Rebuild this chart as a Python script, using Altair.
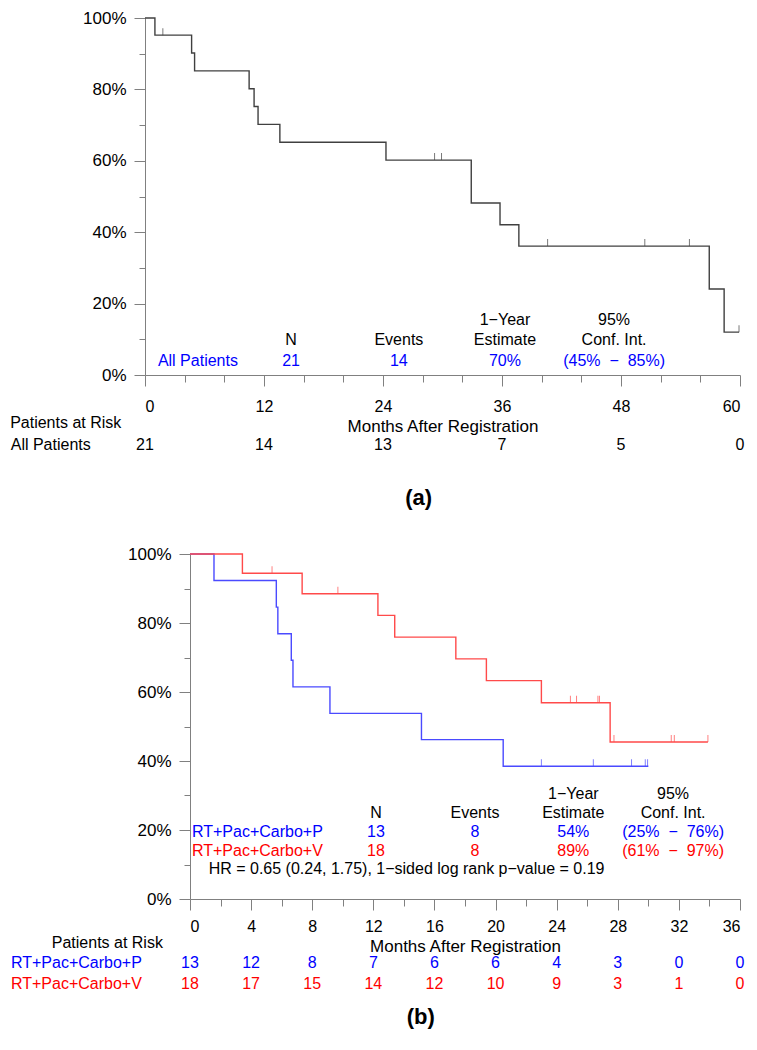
import altair as alt
import pandas as pd

FONT = "Liberation Sans"
NB = "\u00a0"

# ---------------- Panel (a) data ----------------
a_times = [0, 1.0, 4.7, 5.0, 10.5, 11.0, 11.4, 13.6, 24.3, 32.9, 35.8, 37.7, 56.9, 58.4, 59.9]
a_surv = [1.0, 0.952, 0.902, 0.852, 0.802, 0.752, 0.702, 0.652, 0.602, 0.482, 0.421, 0.361, 0.241, 0.120, 0.120]
a_cens_t = [1.8, 29.2, 29.9, 40.6, 50.4, 54.9, 59.9]
a_cens_s = [0.952, 0.602, 0.602, 0.361, 0.361, 0.361, 0.120]
a_risk_months = [0, 12, 24, 36, 48, 60]
a_risk = [21, 14, 13, 7, 5, 0]
a_group = "All Patients"
a_stats = ["21", "14", "70%", "(45%" + NB * 2 + "\u2212" + NB * 2 + "85%)"]

# ---------------- Panel (b) data ----------------
b_groups = ["RT+Pac+Carbo+P", "RT+Pac+Carbo+V"]
p_times = [0, 1.57, 5.65, 5.75, 6.63, 6.74, 9.16, 15.15, 20.5, 30.0]
p_surv = [1.0, 0.923, 0.846, 0.769, 0.692, 0.615, 0.538, 0.462, 0.385, 0.385]
p_cens_t = [23.0, 26.4, 28.9, 29.8, 29.95]
p_cens_s = [0.385, 0.385, 0.385, 0.385, 0.385]
v_times = [0, 3.43, 7.34, 12.3, 13.4, 17.4, 19.4, 23.0, 27.5, 33.9]
v_surv = [1.0, 0.944, 0.885, 0.822, 0.759, 0.696, 0.633, 0.569, 0.455, 0.455]
v_cens_t = [5.37, 9.68, 24.9, 25.3, 26.7, 26.8, 27.75, 31.5, 31.7, 33.9]
v_cens_s = [0.944, 0.885, 0.569, 0.569, 0.569, 0.569, 0.455, 0.455, 0.455, 0.455]
b_risk_months = [0, 4, 8, 12, 16, 20, 24, 28, 32, 36]
p_risk = [13, 12, 8, 7, 6, 6, 4, 3, 0, 0]
v_risk = [18, 17, 15, 14, 12, 10, 9, 3, 1, 0]
p_stats = ["13", "8", "54%", "(25%" + NB * 2 + "\u2212" + NB * 2 + "76%)"]
v_stats = ["18", "8", "89%", "(61%" + NB * 2 + "\u2212" + NB * 2 + "97%)"]
hr_text = "HR = 0.65 (0.24, 1.75), 1\u2212sided log rank p\u2212value = 0.19"

headers_top = ["1\u2212Year", "95%"]
headers_bot = ["N", "Events", "Estimate", "Conf. Int."]

# ---------------- styling / layout ----------------
W, H = 741, 1024
BLUE, RED, GREY = "#0000ff", "#ff0000", "#404040"
LBLUE, LRED = "#4a4aff", "#ff4a4a"
AXC = "#808080"

xa = alt.Scale(domain=[0, 60], range=[137, 732], nice=False, zero=False)
ya = alt.Scale(domain=[0, 1], range=[367, 10], nice=False, zero=False)
xb = alt.Scale(domain=[0, 36], range=[182, 732], nice=False, zero=False)
yb = alt.Scale(domain=[0, 1], range=[891, 546], nice=False, zero=False)

y_vals = [round(i / 10, 1) for i in range(11)]


def y_axis(offset):
    return alt.Axis(orient="left", offset=offset, values=y_vals, format=".0%",
                    labelExpr="round(datum.value*10) % 2 === 0 ? datum.label : ''",
                    tickSize={"condition": {"test": "round(datum.value*10) % 2 === 0", "value": 11}, "value": 6},
                    labelPadding=8, labelFontSize=17, title=None, grid=False)


def x_axis(offset, major, minor, maxv, lpad, ty):
    return alt.Axis(orient="bottom", offset=offset, values=list(range(0, maxv + 1, minor)),
                    labelExpr=f"datum.value % {major} === 0 ? datum.label : ''",
                    tickSize={"condition": {"test": f"datum.value % {major} === 0", "value": 11}, "value": 7},
                    labelPadding=lpad, labelBaseline="middle", labelAngle=0, labelFontSize=16,
                    title="Months After Registration", titleY=ty, titleBaseline="middle", grid=False)


axa_x = x_axis(367 - H, 12, 4, 60, 20, 51)
axa_y = y_axis(-137)
axb_x = x_axis(891 - H, 4, 2, 36, 16, 47)
axb_y = y_axis(-182)


def enc(xs, ys, ax, ay):
    return dict(x=alt.X("t:Q", scale=xs, axis=ax), y=alt.Y("s:Q", scale=ys, axis=ay))


def curve(times, surv, color, xs, ys, ax, ay):
    df = pd.DataFrame({"t": times, "s": surv})
    return alt.Chart(df).mark_line(interpolate="step-after", color=color, strokeWidth=1.4).encode(**enc(xs, ys, ax, ay))


def censor(times, surv, color, xs, ys, ax, ay):
    df = pd.DataFrame({"t": times, "s": surv})
    return alt.Chart(df).mark_tick(orient="vertical", size=7, thickness=1, yOffset=-3.5, color=color).encode(**enc(xs, ys, ax, ay))


def texts(ts, ss, labels, color, xs, ys, ax, ay, align="center", size=16, weight="normal"):
    df = pd.DataFrame({"t": ts, "s": ss, "label": labels})
    return alt.Chart(df).mark_text(align=align, baseline="middle", font=FONT, fontSize=size,
                                   fontWeight=weight, color=color).encode(
        text="label:N", **enc(xs, ys, ax, ay))


# ---------- panel (a) ----------
A = (xa, ya, axa_x, axa_y)
a_cols = [14.73, 25.6, 36.3, 47.3]
panel_a = alt.layer(
    curve(a_times, a_surv, GREY, *A),
    censor(a_cens_t, a_cens_s, GREY, *A),
    texts([36.3, 47.3], [0.154, 0.154], headers_top, "black", *A),
    texts(a_cols, [0.098] * 4, headers_bot, "black", *A),
    texts([1.3], [0.0392], [a_group], BLUE, *A, align="left"),
    texts(a_cols, [0.0392] * 4, a_stats, BLUE, *A),
    texts([-2.39], [-0.1345], ["Patients at Risk"], "black", *A, align="right"),
    texts([-5.47], [-0.196], [a_group], "black", *A, align="right"),
    texts(a_risk_months, [-0.196] * len(a_risk), [str(v) for v in a_risk], "black", *A),
    texts([27.6], [-0.3445], ["(a)"], "black", *A, size=22, weight="bold"),
)

# ---------- panel (b) ----------
B = (xb, yb, axb_x, axb_y)
b_cols = [12.17, 18.65, 25.09, 31.62]
panel_b = alt.layer(
    curve(p_times, p_surv, LBLUE, *B),
    curve(v_times, v_surv, LRED, *B),
    censor(p_cens_t, p_cens_s, LBLUE, *B),
    censor(v_cens_t, v_cens_s, LRED, *B),
    texts([25.09, 31.62], [0.304, 0.304], headers_top, "black", *B),
    texts(b_cols, [0.250] * 4, headers_bot, "black", *B),
    texts([0.13], [0.195], [b_groups[0]], BLUE, *B, align="left"),
    texts(b_cols, [0.195] * 4, p_stats, BLUE, *B),
    texts([0.13], [0.139], [b_groups[1]], RED, *B, align="left"),
    texts(b_cols, [0.139] * 4, v_stats, RED, *B),
    texts([1.22], [0.086], [hr_text], "black", *B, align="left"),
    texts([-5.41], [-0.1275], ["Patients at Risk"], "black", *B),
    texts([-3.15], [-0.186], [b_groups[0]], BLUE, *B, align="right"),
    texts([-3.15], [-0.246], [b_groups[1]], RED, *B, align="right"),
    texts(b_risk_months, [-0.186] * len(p_risk), [str(v) for v in p_risk], BLUE, *B),
    texts(b_risk_months, [-0.246] * len(v_risk), [str(v) for v in v_risk], RED, *B),
    texts([15.1], [-0.343], ["(b)"], "black", *B, size=22, weight="bold"),
)

chart = (
    alt.layer(panel_a, panel_b)
    .resolve_scale(x="independent", y="independent")
    .properties(width=W, height=H, padding=0, autosize=alt.AutoSizeParams(type="none"), background="white")
    .configure_view(stroke=None)
    .configure_axis(labelFont=FONT, labelColor="black",
                    titleFont=FONT, titleFontSize=17, titleFontWeight="normal", titleColor="black",
                    domainColor=AXC, tickColor=AXC, domainWidth=1, tickWidth=1)
)

chart.save("out.html", embed_options={"renderer": "svg", "actions": False})
